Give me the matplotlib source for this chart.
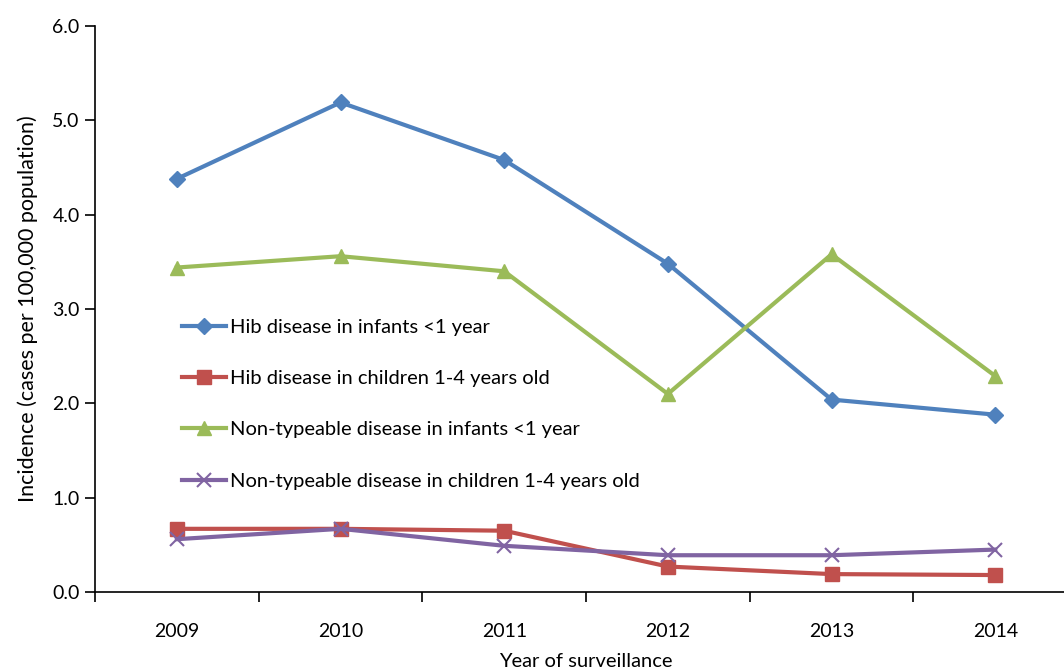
import numpy as np
import matplotlib.pyplot as plt

plt.rcParams['font.family'] = ['Lato', 'DejaVu Sans']

years = ['2009', '2010', '2011', '2012', '2013', '2014']
hib_infants = [4.38, 5.19, 4.58, 3.48, 2.04, 1.88]
hib_children = [0.67, 0.67, 0.65, 0.27, 0.19, 0.18]
nt_infants = [3.44, 3.56, 3.40, 2.10, 3.58, 2.29]
nt_children = [0.56, 0.67, 0.49, 0.39, 0.39, 0.45]

fig = plt.figure(figsize=(10.64, 6.71), dpi=100)
ax = fig.add_axes([0.0893, 0.1177, 0.923, 0.8435])
x = np.arange(len(years))

ax.plot(x, hib_infants, color='#4F81BD', lw=3, marker='D', ms=8,
        label='Hib disease in infants <1 year')
ax.plot(x, hib_children, color='#C0504D', lw=3, marker='s', ms=10,
        label='Hib disease in children 1-4 years old')
ax.plot(x, nt_infants, color='#9BBB59', lw=3, marker='^', ms=10,
        label='Non-typeable disease in infants <1 year')
ax.plot(x, nt_children, color='#8064A2', lw=3, marker='x', ms=10, mew=1.5,
        label='Non-typeable disease in children 1-4 years old')

ax.set_xlim(-0.5, 5.5)
ax.set_ylim(0, 6)
ax.set_yticks(np.arange(0, 6.1, 1.0))
ax.set_yticklabels(['%.1f' % v for v in np.arange(0, 6.1, 1.0)])
ax.set_xticks(x)
ax.set_xticklabels(years)
ax.set_xticks(np.arange(-0.5, 5.6, 1.0), minor=True)
ax.tick_params(axis='x', which='major', length=0, pad=22, labelsize=14)
ax.tick_params(axis='x', which='minor', length=7, width=1.2, direction='out')
ax.tick_params(axis='y', length=7, width=1.2, direction='out', labelsize=14, pad=4)

for s in ['top', 'right']:
    ax.spines[s].set_visible(False)
ax.spines['left'].set_linewidth(1.2)
ax.spines['bottom'].set_linewidth(1.2)

ax.set_ylabel('Incidence (cases per 100,000 population)', fontsize=15.5, labelpad=10)
ax.set_xlabel('Year of surveillance', fontsize=14.5, labelpad=10)

ax.legend(loc='upper left', bbox_to_anchor=(0.07, 0.515), frameon=False,
          fontsize=14.5, labelspacing=1.7, handlelength=2.2, handletextpad=0.2)

fig.savefig('out.png', dpi=100)
